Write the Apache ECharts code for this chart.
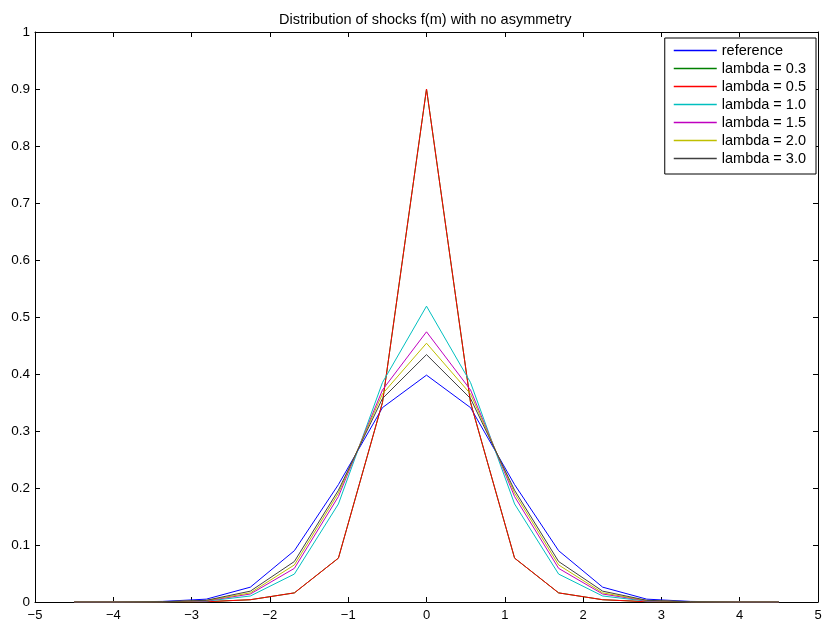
<!DOCTYPE html>
<html>
<head>
<meta charset="utf-8">
<script src="https://cdn.jsdelivr.net/npm/echarts@6/dist/echarts.min.js"></script>
<style>
  html, body { margin: 0; padding: 0; background: #fff; }
  #chart { width: 825px; height: 626px; }
</style>
</head>
<body>
<div id="chart"></div>
<script>
// grid points of m
const xs = [-4.5, -3.9375, -3.375, -2.8125, -2.25, -1.6875, -1.125, -0.5625, 0,
  0.5625, 1.125, 1.6875, 2.25, 2.8125, 3.375, 3.9375, 4.5];

const reference = [0, 0.0002, 0.001, 0.005, 0.026, 0.090, 0.206, 0.341, 0.398,
  0.341, 0.206, 0.090, 0.026, 0.005, 0.001, 0.0002, 0];
const lambda03 = [0, 0, 0, 0.0005, 0.004, 0.016, 0.077, 0.350, 0.900,
  0.350, 0.077, 0.016, 0.004, 0.0005, 0, 0, 0];
const lambda05 = [0, 0, 0, 0.0005, 0.004, 0.016, 0.077, 0.350, 0.900,
  0.350, 0.077, 0.016, 0.004, 0.0005, 0, 0, 0];
const lambda10 = [0, 0, 0.0002, 0.0015, 0.0105, 0.049, 0.172, 0.385, 0.519,
  0.385, 0.172, 0.049, 0.0105, 0.0015, 0.0002, 0, 0];
const lambda15 = [0, 0, 0.0003, 0.002, 0.014, 0.059, 0.185, 0.372, 0.474,
  0.372, 0.185, 0.059, 0.014, 0.002, 0.0003, 0, 0];
const lambda20 = [0, 0, 0.0004, 0.0025, 0.016, 0.065, 0.191, 0.365, 0.454,
  0.365, 0.191, 0.065, 0.016, 0.0025, 0.0004, 0, 0];
const lambda30 = [0, 0, 0.0005, 0.003, 0.019, 0.071, 0.196, 0.357, 0.434,
  0.357, 0.196, 0.071, 0.019, 0.003, 0.0005, 0, 0];

const seriesNames = ["reference", "lambda = 0.3", "lambda = 0.5", "lambda = 1.0",
  "lambda = 1.5", "lambda = 2.0", "lambda = 3.0"];
const seriesValues = [reference, lambda03, lambda05, lambda10, lambda15, lambda20, lambda30];
const seriesColors = ["#0000ff", "#008000", "#ff0000", "#00bfbf", "#bf00bf", "#bfbf00", "#404040"];

const font = "Liberation Sans, Arial, Helvetica, sans-serif";

const minus = v => String(v).replace("-", "\u2212");

const boxAxis = {
  axisLine: { show: true, onZero: false, lineStyle: { color: "#000", width: 1 } },
  axisTick: { show: true, inside: true, length: 5, lineStyle: { color: "#000" } },
  splitLine: { show: false }
};

const option = {
  animation: false,
  backgroundColor: "#fff",
  title: {
    text: "Distribution of shocks f(m) with no asymmetry",
    left: 274,
    top: 7,
    textStyle: { fontFamily: font, fontSize: 14.5, fontWeight: "normal", color: "#000" }
  },
  legend: {
    orient: "vertical",
    right: 9,
    top: 38,
    padding: [5, 10, 8, 9],
    icon: "rect",
    itemWidth: 43,
    itemHeight: 1.5,
    itemGap: 3,
    borderColor: "#000",
    borderWidth: 1,
    backgroundColor: "#fff",
    textStyle: { fontFamily: font, fontSize: 14.5, lineHeight: 14, color: "#000" },
    data: seriesNames
  },
  grid: { left: 35, right: 7, top: 32, bottom: 24 },
  xAxis: [
    Object.assign({
      type: "value", min: -5, max: 5, interval: 1,
      axisLabel: { fontFamily: font, fontSize: 13, color: "#000", margin: 7, formatter: minus }
    }, boxAxis),
    Object.assign({
      type: "value", position: "top", min: -5, max: 5, interval: 1,
      axisLabel: { show: false }
    }, boxAxis)
  ],
  yAxis: [
    Object.assign({
      type: "value", min: 0, max: 1, interval: 0.1,
      axisLabel: { fontFamily: font, fontSize: 13.5, color: "#000", margin: 5 }
    }, boxAxis),
    Object.assign({
      type: "value", position: "right", min: 0, max: 1, interval: 0.1,
      axisLabel: { show: false }
    }, boxAxis)
  ],
  series: []
};

for (let i = 0; i < seriesNames.length; i++) {
  option.series.push({
    name: seriesNames[i],
    type: "line",
    symbol: "none",
    color: seriesColors[i],
    itemStyle: { color: seriesColors[i] },
    lineStyle: { width: 1, color: seriesColors[i] },
    data: xs.map((x, j) => [x, seriesValues[i][j]])
  });
}

// red drawn over green, as in the original
option.series[1].z = 2;
option.series[2].z = 3;

const chart = echarts.init(document.getElementById("chart"));
chart.setOption(option);
</script>
</body>
</html>
